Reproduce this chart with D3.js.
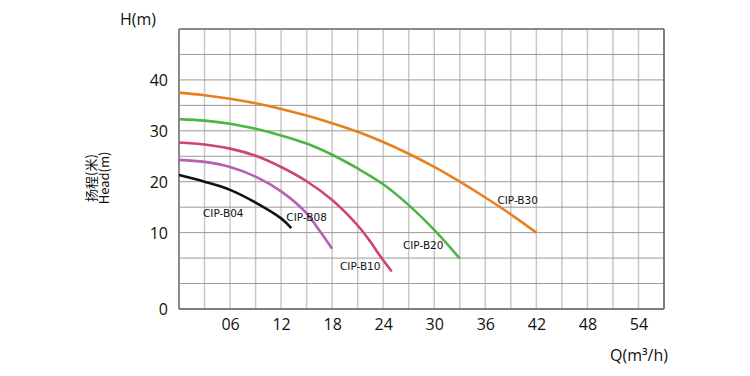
<!DOCTYPE html>
<html lang="en">
<head>
    <meta charset="UTF-8">
    <title>CIP pump curves</title>
    <style>
        body { margin: 0; background: #fff; }
        svg { display: block; }
    </style>
</head>
<body>
<svg></svg>
<script src="https://d3js.org/d3.v7.min.js"></script>
<script>
    // flow Q (m3/h) and head H (m)
    var models = ["CIP-B04", "CIP-B08", "CIP-B10", "CIP-B20", "CIP-B30"];
    var qB04 = [0, 3, 6, 9, 12, 13.2];
    var hB04 = [21.3, 20.0, 18.4, 15.9, 12.8, 10.9];
    var qB08 = [0, 3, 6, 9, 12, 15, 16.5, 18];
    var hB08 = [24.3, 23.9, 22.9, 21.0, 18.1, 13.8, 10.4, 7.9];
    var qB10 = [0, 3, 6, 9, 12, 15, 18, 21, 22.5, 23.6, 25];
    var hB10 = [27.7, 27.3, 26.5, 25.1, 22.9, 20.1, 16.4, 11.4, 8.8, 7.0, 4.9];
    var qB20 = [0, 3, 6, 9, 12, 15, 18, 21, 24, 27, 30.3, 33];
    var hB20 = [32.3, 32.0, 31.4, 30.4, 29.1, 27.5, 25.3, 22.6, 19.5, 15.4, 10.0, 6.6];
    var qB30 = [0, 3, 6, 9, 12, 15, 18, 21, 24, 27, 30, 33, 36, 39, 42];
    var hB30 = [37.5, 37.0, 36.3, 35.4, 34.3, 33.0, 31.5, 29.8, 27.8, 25.5, 22.9, 20.0, 16.9, 13.6, 10.0];
    // where each model name sits (Q, H)
    var labelQ = [5.2, 15.0, 21.3, 28.7, 39.8];
    var labelH = [13.8, 13.0, 5.6, 8.3, 16.4];

    var xTicks = [6, 12, 18, 24, 30, 36, 42, 48, 54];
    var xTickLabels = ["06", "12", "18", "24", "30", "36", "42", "48", "54"];
    var yTicks = [0, 10, 20, 30, 40];
    var yTickLabels = ["0", "10", "20", "30", "40"];

    var colors = ["#111111", "#b560b5", "#cc4670", "#4cb544", "#e8801e"];

    var width = 750;
    var height = 376;
    var margin = {top: 29, right: 86, bottom: 67, left: 179};
    var w = width - margin.left - margin.right;
    var h = height - margin.top - margin.bottom;
    var step = h / 11;

    var xScale = d3.scaleLinear().domain([0, 57]).range([0, w]);
    // the axis is stretched below 10 m: 0..10 takes three grid rows
    var yScale = d3.scaleLinear().domain([0, 10, 50]).range([h, h - 3 * step, 0]);

    var svg = d3.select("svg")
        .attr("width", width)
        .attr("height", height);

    var g = svg.append("g")
        .attr("transform", "translate(" + margin.left + "," + margin.top + ")");

    // grid
    g.selectAll(".vgrid")
        .data(d3.range(3, 57, 3))
        .enter().append("line")
        .attr("x1", function (d) { return xScale(d); })
        .attr("x2", function (d) { return xScale(d); })
        .attr("y1", 0)
        .attr("y2", h)
        .style("stroke", "#c9c9c9")
        .style("stroke-width", 1.5);

    g.selectAll(".hgrid")
        .data(d3.range(1, 11))
        .enter().append("line")
        .attr("x1", 0)
        .attr("x2", w)
        .attr("y1", function (d) { return d * step; })
        .attr("y2", function (d) { return d * step; })
        .style("stroke", "#9a9a9a")
        .style("stroke-width", 1);

    // frame
    g.append("line").attr("x1", 0).attr("x2", w).attr("y1", 0).attr("y2", 0)
        .style("stroke", "#8a8a8a").style("stroke-width", 2);
    g.append("line").attr("x1", 0).attr("x2", 0).attr("y1", 0).attr("y2", h)
        .style("stroke", "#8a8a8a").style("stroke-width", 2);
    g.append("line").attr("x1", w).attr("x2", w).attr("y1", 0).attr("y2", h)
        .style("stroke", "#555").style("stroke-width", 1.5);
    g.append("line").attr("x1", 0).attr("x2", w).attr("y1", h).attr("y2", h)
        .style("stroke", "#555").style("stroke-width", 1.5);

    // axes (labels only)
    var xAxis = d3.axisBottom(xScale)
        .tickValues(xTicks)
        .tickSize(0)
        .tickPadding(10)
        .tickFormat(function (d, i) { return xTickLabels[i]; });
    var xg = g.append("g")
        .attr("transform", "translate(0," + h + ")")
        .call(xAxis);

    var yAxis = d3.axisLeft(yScale)
        .tickValues(yTicks)
        .tickSize(0)
        .tickPadding(11)
        .tickFormat(function (d, i) { return yTickLabels[i]; });
    var yg = g.append("g").call(yAxis);

    [xg, yg].forEach(function (a) {
        a.select(".domain").remove();
        a.selectAll("text")
            .style("font-family", "'Open Sans', 'Noto Sans', sans-serif")
            .style("font-size", "16px")
            .style("fill", "#111");
    });
    yg.selectAll("text").attr("dy", "0.36em");

    // curves
    var series = [
        {q: qB04, h: hB04},
        {q: qB08, h: hB08},
        {q: qB10, h: hB10},
        {q: qB20, h: hB20},
        {q: qB30, h: hB30}
    ];

    var line = d3.line()
        .x(function (d) { return xScale(d[0]); })
        .y(function (d) { return yScale(d[1]); })
        .curve(d3.curveCatmullRom.alpha(0.5));

    g.selectAll(".curve")
        .data(series)
        .enter().append("path")
        .attr("d", function (s) { return line(d3.zip(s.q, s.h)); })
        .style("fill", "none")
        .style("stroke", function (s, i) { return colors[i]; })
        .style("stroke-width", 2.6);

    g.selectAll(".model")
        .data(models)
        .enter().append("text")
        .attr("x", function (d, i) { return xScale(labelQ[i]); })
        .attr("y", function (d, i) { return yScale(labelH[i]); })
        .attr("dy", "0.35em")
        .style("text-anchor", "middle")
        .style("font-family", "'DejaVu Sans', sans-serif")
        .style("font-size", "10.5px")
        .style("fill", "#111")
        .text(function (d) { return d; });

    // axis titles
    svg.append("text")
        .attr("x", 138)
        .attr("y", 19)
        .attr("dy", "0.35em")
        .style("text-anchor", "middle")
        .style("font-family", "'Open Sans', 'Noto Sans', sans-serif")
        .style("font-size", "16px")
        .style("fill", "#111")
        .text("H(m)");

    svg.append("text")
        .attr("x", 668)
        .attr("y", 355)
        .attr("dy", "0.35em")
        .style("text-anchor", "end")
        .style("font-family", "'Open Sans', 'Noto Sans', sans-serif")
        .style("font-size", "16px")
        .style("fill", "#111")
        .text("Q(m³/h)");

    var yTitle = svg.append("text")
        .attr("transform", "translate(98,178) rotate(-90)")
        .style("text-anchor", "middle")
        .style("font-family", "'Noto Sans CJK SC', 'Noto Sans', sans-serif")
        .style("font-size", "13px")
        .style("fill", "#111");
    yTitle.append("tspan").attr("x", 0).attr("y", -2).text("扬程(米)");
    yTitle.append("tspan").attr("x", 0).attr("y", 11).text("Head(m)");
</script>
</body>
</html>
